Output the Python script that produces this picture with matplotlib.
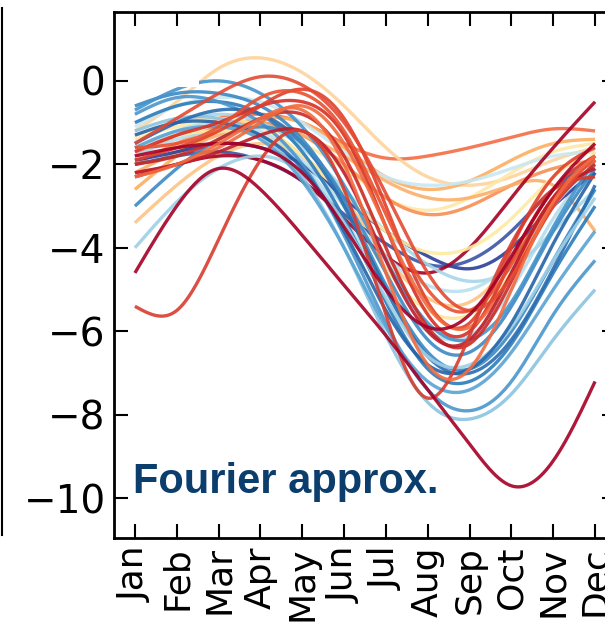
import numpy as np
import matplotlib
matplotlib.use("Agg")
import matplotlib.pyplot as plt
from matplotlib.patches import Rectangle
from matplotlib.lines import Line2D

months = ['Jan', 'Feb', 'Mar', 'Apr', 'May', 'Jun',
          'Jul', 'Aug', 'Sep', 'Oct', 'Nov', 'Dec']

# monthly values (Jan..Dec)
shallow_curves = [
    [-1.8, -1.3, -0.9, -0.8, -1.0, -1.5, -1.85, -1.8, -1.6, -1.35, -1.15, -1.2],
    [-1.2, -0.5, 0.3, 0.55, 0.2, -0.6, -1.6, -2.3, -2.5, -2.3, -1.9, -1.6],
    [-2.6, -1.8, -1.2, -0.9, -1.0, -1.6, -2.3, -2.6, -2.4, -1.9, -1.5, -1.4],
    [-1.4, -1.1, -1.0, -1.1, -1.5, -2.1, -2.8, -3.1, -2.8, -2.2, -1.7, -1.5],
    [-1.1, -0.6, -0.4, -0.5, -1.0, -1.7, -2.3, -2.5, -2.4, -2.1, -1.8, -1.7],
    [-2.0, -1.5, -1.1, -1.0, -1.3, -2.0, -2.8, -3.2, -3.0, -2.5, -2.1, -1.9],
    [-2.2, -1.7, -1.3, -1.1, -1.3, -1.8, -2.4, -2.8, -2.8, -2.5, -2.5, -3.6],
]
shallow_colors = ['#f46d43', '#fdd49c', '#fdae61', '#fee8a8', '#c9e7f2',
                  '#f88d52', '#fbb06a']

middle_curves = [
    [-1.9, -1.7, -1.5, -1.6, -2.0, -2.8, -3.6, -4.2, -4.5, -4.0, -3.0, -2.2],
    [-2.0, -1.8, -1.7, -1.9, -2.4, -3.2, -3.9, -4.4, -4.3, -3.6, -2.6, -1.9],
    [-2.3, -2.0, -1.8, -1.9, -2.4, -3.3, -4.2, -4.6, -4.0, -2.8, -1.6, -0.5],
    [-1.5, -1.0, -0.8, -1.0, -1.6, -2.6, -3.6, -4.4, -4.8, -4.5, -3.6, -2.6],
    [-1.6, -1.3, -1.2, -1.3, -1.8, -2.7, -3.6, -4.1, -4.0, -3.3, -2.3, -1.6],
    [-1.7, -1.2, -1.0, -1.2, -1.9, -3.0, -4.2, -4.9, -5.0, -4.3, -3.0, -2.0],
]
middle_colors = ['#2b3f99', '#3a55a5', '#a50026', '#a6d6ea', '#feeaa0', '#b8e0ee']

red_curves = [
    [-1.7, -1.3, -1.0, -0.6, -0.5, -1.3, -3.5, -5.6, -6.0, -4.3, -2.6, -1.8],
    [-1.9, -1.6, -1.2, -0.6, -0.2, -0.9, -3.0, -5.3, -5.8, -4.0, -2.3, -1.6],
    [-2.0, -1.8, -1.4, -0.9, -0.8, -1.8, -4.0, -5.9, -6.3, -4.8, -3.0, -2.0],
    [-1.6, -1.5, -1.1, -0.4, -0.3, -1.2, -3.2, -5.0, -5.5, -4.4, -2.8, -1.9],
    [-2.2, -2.0, -1.6, -1.0, -0.6, -1.5, -3.5, -5.4, -5.9, -4.6, -2.8, -1.9],
    [-2.2, -2.0, -1.7, -1.3, -1.2, -2.2, -4.3, -6.0, -6.2, -4.6, -2.8, -2.1],
    [-5.4, -5.5, -3.8, -1.9, -1.2, -2.6, -5.6, -7.6, -6.1, -3.9, -2.6, -2.3],
    [-1.5, -0.9, -0.3, 0.1, -0.1, -1.0, -2.7, -4.6, -5.5, -4.7, -3.0, -1.8],
    [-1.8, -1.6, -1.5, -1.6, -2.2, -3.5, -5.0, -5.9, -5.6, -4.2, -2.6, -1.5],
    [-2.3, -2.0, -1.5, -0.9, -0.7, -2.0, -4.6, -6.8, -6.9, -5.0, -2.9, -1.8],
]
red_colors = ['#d73027', '#e0402b', '#cc2a24', '#e8502f', '#f06a3d',
              '#bd1d2a', '#d73c2f', '#e34a33', '#a50026', '#f26b42']

blue_curves = [
    [-0.6, -0.3, -0.3, -0.6, -1.4, -2.9, -4.9, -6.5, -6.9, -6.0, -4.3, -2.6],
    [-1.0, -0.6, -0.5, -0.8, -1.7, -3.3, -5.3, -6.9, -7.2, -6.3, -4.6, -3.0],
    [-0.8, -0.4, -0.5, -1.0, -2.0, -3.7, -5.8, -7.4, -7.9, -7.2, -5.6, -4.3],
    [-1.2, -0.9, -0.9, -1.3, -2.3, -4.0, -6.1, -7.7, -8.1, -7.5, -6.2, -5.0],
    [-1.5, -1.0, -0.7, -0.8, -1.5, -3.0, -5.0, -6.6, -7.0, -6.2, -4.5, -2.5],
    [-3.0, -2.1, -1.4, -1.1, -1.5, -2.8, -4.6, -6.2, -6.5, -5.4, -3.6, -2.1],
    [-4.0, -2.9, -2.1, -1.8, -2.2, -3.4, -5.2, -6.6, -6.8, -5.9, -4.3, -2.8],
    [-0.7, -0.2, 0.0, -0.3, -1.1, -2.5, -4.3, -5.8, -6.2, -5.3, -3.5, -1.9],
    [-1.3, -1.0, -1.0, -1.3, -2.1, -3.6, -5.5, -6.8, -6.9, -5.8, -3.9, -2.2],
    [-1.6, -1.2, -1.1, -1.4, -2.4, -4.0, -5.9, -7.2, -7.4, -6.5, -5.0, -3.6],
]
blue_colors = ['#3a88c4', '#2b7bba', '#4a96cc', '#8cc4e0', '#2a6db0',
               '#3d8ac5', '#9fd0e6', '#4594cb', '#2464a8', '#5aa3d3']

pale_curves = [
    [-1.3, -1.0, -0.9, -1.1, -1.8, -3.0, -4.5, -5.5, -5.6, -4.6, -3.0, -1.7],
    [-1.8, -1.4, -1.2, -1.3, -2.0, -3.3, -4.9, -6.0, -6.1, -5.0, -3.3, -2.0],
    [-3.4, -2.5, -1.8, -1.5, -1.8, -2.8, -4.2, -5.2, -5.3, -4.3, -2.8, -1.8],
]
pale_colors = ['#fee49a', '#b5ddec', '#fdc382']

# the deepest curve, minimum in October
deep_curve = [-4.6, -3.0, -2.1, -2.6, -3.7, -4.9, -6.1, -7.4, -8.7, -9.7, -9.1, -7.2]
deep_color = '#a50026'


def smooth(y, n=200):
    # natural cubic spline through the monthly points
    y = np.asarray(y, dtype=float)
    k = len(y)
    A = np.zeros((k, k))
    b = np.zeros(k)
    A[0, 0] = A[-1, -1] = 1
    for i in range(1, k - 1):
        A[i, i - 1], A[i, i], A[i, i + 1] = 1, 4, 1
        b[i] = 6 * (y[i + 1] - 2 * y[i] + y[i - 1])
    M = np.linalg.solve(A, b)
    xs = np.linspace(0, k - 1, n)
    i = np.minimum(xs.astype(int), k - 2)
    t = xs - i
    u = 1 - t
    ys = (M[i] * u**3 / 6 + M[i + 1] * t**3 / 6
          + (y[i] - M[i] / 6) * u + (y[i + 1] - M[i + 1] / 6) * t)
    return xs, ys


fig = plt.figure(figsize=(6.05, 6.31), dpi=100)
ax = fig.add_axes([114 / 605, (631 - 538) / 631, (616 - 114) / 605, (538 - 12) / 631])

groups = [(shallow_curves, shallow_colors), (pale_curves, pale_colors),
          (middle_curves, middle_colors), (blue_curves, blue_colors),
          (red_curves, red_colors), ([deep_curve], [deep_color])]
for curves, cols in groups:
    for vals, c in zip(curves, cols):
        xs, ys = smooth(vals)
        ax.plot(xs, ys, color=c, lw=2.4, alpha=0.9, solid_capstyle='butt')

# white patch over the top-left corner
ax.add_patch(Rectangle((-0.17, -0.14), 1.7, 1.45, facecolor='white',
                       edgecolor='none', zorder=5))

ax.text(-0.05, -9.88, 'Fourier approx.', color='#0b3d6d', fontsize=30,
        fontweight='bold', family='Liberation Sans', ha='left', va='baseline',
        zorder=6)

ax.set_xlim(-0.5, 11.5)
ax.set_ylim(-10.95, 1.65)
ax.set_xticks(range(12))
ax.set_xticklabels(months, rotation=90, fontsize=26)
ax.set_yticks([0, -2, -4, -6, -8, -10])
ax.set_yticklabels(['0', '\u22122', '\u22124', '\u22126', '\u22128', '\u221210'], fontsize=28)
ax.tick_params(direction='in', length=10, width=1.5, top=True, right=True, pad=6)
for s in ax.spines.values():
    s.set_linewidth(2)

# edge of the neighbouring panel
fig.add_artist(Line2D([2 / 605, 2 / 605], [1 - 8 / 631, 1 - 535 / 631],
                      color='black', lw=1.5))

fig.savefig('out.png', dpi=100)
